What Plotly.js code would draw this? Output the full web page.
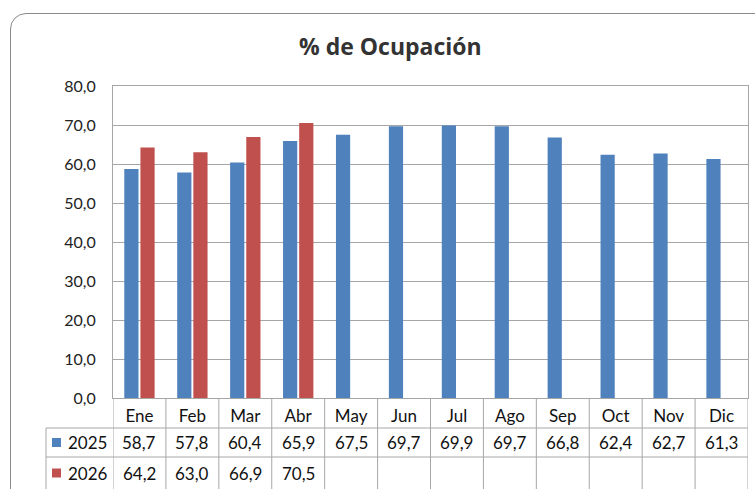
<!DOCTYPE html>
<html>
<head>
<meta charset="utf-8">
<script src="https://cdn.plot.ly/plotly-3.0.1.min.js"></script>
<style>
  body { margin: 0; background: #fff; overflow: hidden; }
  #frame { position: absolute; left: 10px; top: 13px; width: 800px; height: 520px;
           border: 1px solid #8a8a8a; border-radius: 16px; }
  #chart { position: absolute; left: 0; top: 0; width: 755px; height: 489px; }
</style>
</head>
<body>
<div id="frame"></div>
<div id="chart"></div>
<script>
var months = ['Ene', 'Feb', 'Mar', 'Abr', 'May', 'Jun', 'Jul', 'Ago', 'Sep', 'Oct', 'Nov', 'Dic'];
var occ_2025 = [58.7, 57.8, 60.4, 65.9, 67.5, 69.7, 69.9, 69.7, 66.8, 62.4, 62.7, 61.3];
var occ_2026 = [64.2, 63.0, 66.9, 70.5];
var series_names = ['2025', '2026'];
var series_colors = ['#4F81BD', '#C0504D'];

var font_family = 'Lato, "Open Sans", sans-serif';
var grid_color = '#a6a6a6';

// pixel rows of the data table (plot area is y 86..398)
var plot_top = 86, plot_bottom = 398;
var row_lines = [428, 457, 489];
function py(p) { return (plot_bottom - p) / (plot_bottom - plot_top); }

function fmt(v) { return v.toFixed(1).replace('.', ','); }

function create_traces()
{
    return [
        {
            type: 'bar', x: months, y: occ_2025, name: series_names[0],
            marker: { color: series_colors[0] }
        },
        {
            type: 'bar', x: months.slice(0, occ_2026.length), y: occ_2026, name: series_names[1],
            marker: { color: series_colors[1] }
        }
    ];
}

function create_table()
{
    var shapes = [];
    var annotations = [];
    var left_edge = (46 - 113) / 635;

    // vertical lines between months
    for (var i = 0; i <= months.length; i++) {
        shapes.push({
            type: 'line', xref: 'x', yref: 'paper',
            x0: i - 0.5, x1: i - 0.5, y0: 0, y1: py(row_lines[2]),
            line: { color: grid_color, width: 1 }
        });
    }
    // horizontal lines
    shapes.push({
        type: 'line', xref: 'paper', yref: 'paper',
        x0: left_edge, x1: 1, y0: py(row_lines[0]), y1: py(row_lines[0]),
        line: { color: grid_color, width: 1 }
    });
    shapes.push({
        type: 'line', xref: 'paper', yref: 'paper',
        x0: left_edge, x1: 1, y0: py(row_lines[1]), y1: py(row_lines[1]),
        line: { color: grid_color, width: 1 }
    });
    // left edge of legend column
    shapes.push({
        type: 'line', xref: 'paper', yref: 'paper',
        x0: left_edge, x1: left_edge, y0: py(row_lines[0]), y1: py(row_lines[2]),
        line: { color: grid_color, width: 1 }
    });

    var rows = [occ_2025, occ_2026];
    for (var r = 0; r < rows.length; r++) {
        var top = row_lines[r], bottom = row_lines[r + 1];
        var mid = py((top + bottom) / 2);
        // legend key
        shapes.push({
            type: 'rect', xref: 'paper', yref: 'paper',
            x0: (52 - 113) / 635, x1: (61 - 113) / 635,
            y0: mid - 4.5 / 312, y1: mid + 4.5 / 312,
            fillcolor: series_colors[r], line: { width: 0 }
        });
        annotations.push({
            xref: 'paper', yref: 'paper', x: (66 - 113) / 635, y: mid,
            xanchor: 'left', yanchor: 'middle', showarrow: false,
            text: series_names[r], font: { family: font_family, size: 17, color: '#111' }
        });
        for (var j = 0; j < rows[r].length; j++) {
            annotations.push({
                xref: 'x', yref: 'paper', x: months[j], y: mid,
                xanchor: 'center', yanchor: 'middle', showarrow: false,
                text: fmt(rows[r][j]), font: { family: font_family, size: 17, color: '#111' }
            });
        }
    }
    return { shapes: shapes, annotations: annotations };
}

function create_layout()
{
    var table = create_table();
    return {
        width: 755, height: 489,
        margin: { l: 113, r: 7, t: 86, b: 91 },
        paper_bgcolor: 'rgba(0,0,0,0)',
        plot_bgcolor: '#fff',
        separators: ',.',
        showlegend: false,
        barmode: 'group',
        bargap: 0.39,
        bargroupgap: 0.12,
        title: {
            text: '<b>% de Ocupación</b>',
            x: 0.517, xref: 'container', xanchor: 'center',
            y: 0.905, yref: 'container', yanchor: 'middle',
            font: { family: '"Open Sans", sans-serif', size: 23, color: '#333' }
        },
        xaxis: {
            type: 'category',
            range: [-0.5, 11.5],
            showline: true, linecolor: grid_color, mirror: true,
            ticks: '', ticklabelstandoff: 3,
            tickfont: { family: font_family, size: 17, color: '#111' },
            fixedrange: true
        },
        yaxis: {
            range: [0, 80], dtick: 10, tickformat: '.1f',
            showgrid: true, gridcolor: grid_color, gridwidth: 1,
            showline: true, linecolor: grid_color, mirror: true,
            zeroline: false,
            ticks: '', ticklabelstandoff: 13,
            tickfont: { family: font_family, size: 16, color: '#222' },
            fixedrange: true
        },
        shapes: table.shapes,
        annotations: table.annotations
    };
}

Plotly.newPlot('chart', create_traces(), create_layout(), { displayModeBar: false, staticPlot: true });
</script>
</body>
</html>
